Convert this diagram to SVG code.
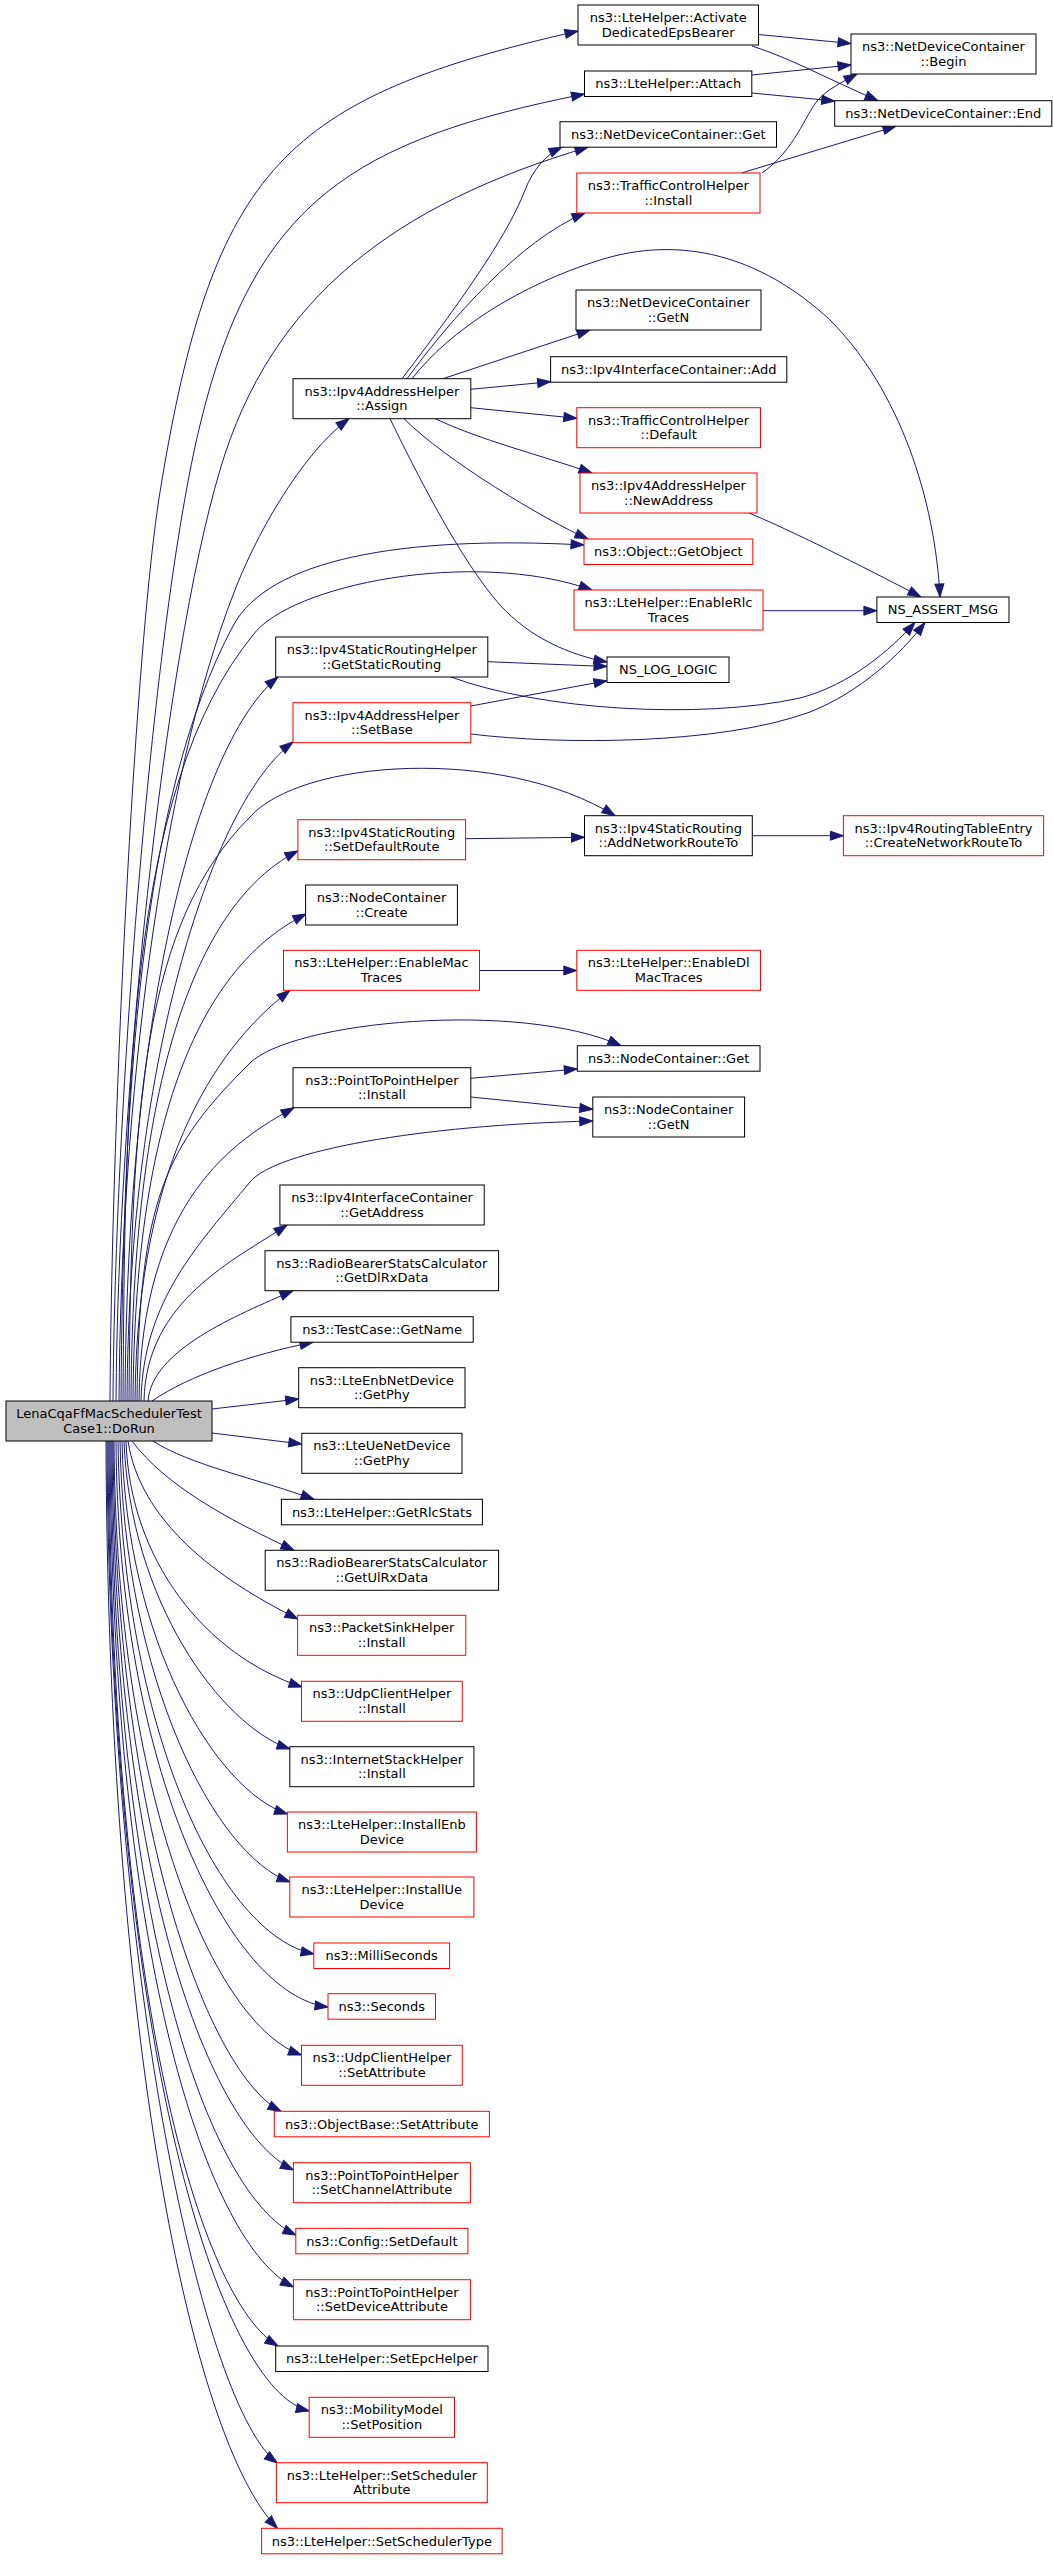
<svg xmlns="http://www.w3.org/2000/svg" width="1053" height="2560" viewBox="0 0 1053 2560">
<style>
.n rect{fill:#ffffff;stroke:#000000;stroke-width:1}
.r rect{fill:#ffffff;stroke:#ff0000;stroke-width:1}
.m rect{fill:#bfbfbf;stroke:#000000;stroke-width:1}
text{font-family:"DejaVu Sans","Liberation Sans",sans-serif;font-size:13px;text-anchor:middle;fill:#000000}
#edges path{fill:none;stroke:#191970;stroke-width:1;marker-end:url(#arr)}
</style>
<defs>
<marker id="arr" markerUnits="userSpaceOnUse" markerWidth="14" markerHeight="10" refX="13" refY="4.5" orient="auto" overflow="visible">
<path d="M0,0 L13,4.5 L0,9 Z" fill="#191970" stroke="#191970" stroke-width="1"/>
</marker>
</defs>
<rect x="0" y="0" width="1053" height="2560" fill="#ffffff"/>
<g id="edges">
<path d="M110,1401 C112,1100 136,640 160,492 C213,166 285,97.6 578,31"/>
<path d="M113,1401 C115,1100 153,619 200,425 C254,201 354.5,140 584.5,94"/>
<path d="M116,1401 C118,1100 163,662 220,470 C271,297 396,204 588,147.2"/>
<path d="M119,1401 C121,1100 161,782 233,595 C254,539 300,455 349,418.7"/>
<path d="M121,1401 C123,1100 139,802 233,626 C268,560 400,535 584,545"/>
<path d="M123,1401 C125,1100 127,789 253,635 C290,585 472,548 592,590"/>
<path d="M125,1401 C127,1000 200,740 278,677"/>
<path d="M127,1401 C129,1050 215,800 293,742"/>
<path d="M129,1401 C131,1100 144,923 250,817 C300,760 500,745 615,815.7"/>
<path d="M131,1401 C133,1000 230,885 298,851"/>
<path d="M133,1401 C135,1050 235,950 306,914"/>
<path d="M135,1401 C137,1150 225,1040 290,990.3"/>
<path d="M137,1401 C139,1200 165,1147 250,1063 C292.6,1021 520,1000 621,1045.7"/>
<path d="M139,1401 C141,1200 235,1140 294,1107.7"/>
<path d="M141,1401 C143,1300 199,1244 250,1182 C275,1151 420,1125 592.8,1121"/>
<path d="M144,1401 C146,1300 235,1260 287,1225"/>
<path d="M148,1401 C152,1350 235,1316 293,1290.7"/>
<path d="M152,1401 C190,1375 250,1355 313,1342.2"/>
<path d="M212,1409 L298.7,1399"/>
<path d="M212,1433 L301.8,1444"/>
<path d="M153,1441 C190,1465 255,1478 314,1499.3"/>
<path d="M132,1441 C165,1485 225,1518 294,1550.3"/>
<path d="M128,1441 C140,1520 215,1578 298,1619"/>
<path d="M126,1441 C130,1560 205,1655 302,1687"/>
<path d="M124,1441 C130,1600 220,1725 290,1749"/>
<path d="M122,1441 C126,1640 215,1790 287.5,1814"/>
<path d="M120,1441 C124,1680 215,1855 290,1882"/>
<path d="M118,1441 C122,1730 220,1935 314,1954"/>
<path d="M116,1441 C118,1770 230,1995 328,2007"/>
<path d="M114,1441 C116,1800 215,2025 301.5,2055"/>
<path d="M113,1441 C115,1830 210,2075 281,2111.3"/>
<path d="M112,1441 C114,1880 210,2130 293.5,2170"/>
<path d="M111,1441 C113,1930 210,2195 296,2235"/>
<path d="M110,1441 C112,1970 210,2245 293.5,2287"/>
<path d="M109,1441 C111,2000 200,2300 278,2346"/>
<path d="M108,1441 C110,2050 220,2390 309.2,2411"/>
<path d="M107,1441 C109,1990 205,2410 277.5,2463"/>
<path d="M106,1441 C108,2030 190,2440 277.5,2528.3"/>
<path d="M758.5,34.5 L851,43.5"/>
<path d="M752,46 C790,58 830,80 878,100.7"/>
<path d="M751.8,75 L851,65"/>
<path d="M751.8,93 L834.7,101"/>
<path d="M762,173 C795,150 805,115 818,100 C828,89 842,82 857,74"/>
<path d="M741.5,173 L896,126.2"/>
<path d="M402,378.7 C470,290 510,230 525,190 C533,170 545,155 562,147.2"/>
<path d="M407,378.7 C450,320 520,240 585,213"/>
<path d="M412,378.7 C450,330 520,285 600,260 C680,235 760,255 830,320 C900,390 935,500 940,597"/>
<path d="M443,378.7 L590,330"/>
<path d="M470.8,389.3 L550.6,381.7"/>
<path d="M470.8,407.7 L576.8,418.3"/>
<path d="M435,418.7 C480,440 540,455 592,473"/>
<path d="M404,418.7 C445,460 545,520 588,539"/>
<path d="M390,418.7 C415,470 460,560 500,605 C530,638 570,655 607,662"/>
<path d="M487.8,661.7 L607,666.5"/>
<path d="M451,677 C540,710 700,720 800,698 C850,685 890,650 915,622.5"/>
<path d="M470.8,706 L607,680.7"/>
<path d="M470.8,734 C560,745 720,745 810,712 C860,692 900,655 925,622.5"/>
<path d="M749,513 C790,530 860,565 921,597"/>
<path d="M763,610.7 L876.9,610.7"/>
<path d="M465.6,838.7 L584.5,837.3"/>
<path d="M752.3,835.7 L843.4,835.7"/>
<path d="M479.5,970.5 L576.8,970.5"/>
<path d="M470.8,1078.3 L577.3,1069"/>
<path d="M470.8,1097 L592.8,1109.3"/>
</g>
<g id="node_main" class="m"><rect x="6" y="1401" width="206" height="40"/><text x="109" y="1418">LenaCqaFfMacSchedulerTest</text><text x="109" y="1432.5">Case1::DoRun</text></g>
<g id="node_activate" class="n"><rect x="578" y="5" width="180.5" height="40"/><text x="668.25" y="22">ns3::LteHelper::Activate</text><text x="668.25" y="36.5">DedicatedEpsBearer</text></g>
<g id="node_begin" class="n"><rect x="851" y="34" width="185" height="40"/><text x="943.5" y="51">ns3::NetDeviceContainer</text><text x="943.5" y="65.5">::Begin</text></g>
<g id="node_attach" class="n"><rect x="584.5" y="71" width="167.3" height="25.5"/><text x="668.2" y="88.25">ns3::LteHelper::Attach</text></g>
<g id="node_end" class="n"><rect x="834.7" y="100.7" width="217.1" height="25.5"/><text x="943.25" y="117.95">ns3::NetDeviceContainer::End</text></g>
<g id="node_ndcget" class="n"><rect x="560" y="121.7" width="216.5" height="25.5"/><text x="668.25" y="138.95">ns3::NetDeviceContainer::Get</text></g>
<g id="node_tcinstall" class="r"><rect x="576.8" y="173" width="183.2" height="40"/><text x="668.4" y="190">ns3::TrafficControlHelper</text><text x="668.4" y="204.5">::Install</text></g>
<g id="node_ndcgetn" class="n"><rect x="576" y="290" width="185" height="40"/><text x="668.5" y="307">ns3::NetDeviceContainer</text><text x="668.5" y="321.5">::GetN</text></g>
<g id="node_add" class="n"><rect x="550.6" y="356.7" width="236.2" height="25.5"/><text x="668.7" y="373.95">ns3::Ipv4InterfaceContainer::Add</text></g>
<g id="node_assign" class="n"><rect x="293" y="378.7" width="177.8" height="40"/><text x="381.9" y="395.7">ns3::Ipv4AddressHelper</text><text x="381.9" y="410.2">::Assign</text></g>
<g id="node_default" class="r"><rect x="576.8" y="407.7" width="183.7" height="40"/><text x="668.65" y="424.7">ns3::TrafficControlHelper</text><text x="668.65" y="439.2">::Default</text></g>
<g id="node_newaddress" class="r"><rect x="580" y="473" width="177" height="40"/><text x="668.5" y="490">ns3::Ipv4AddressHelper</text><text x="668.5" y="504.5">::NewAddress</text></g>
<g id="node_getobject" class="r"><rect x="584" y="539" width="168.8" height="25.5"/><text x="668.4" y="556.25">ns3::Object::GetObject</text></g>
<g id="node_enablerlc" class="r"><rect x="574" y="590" width="189" height="40"/><text x="668.5" y="607">ns3::LteHelper::EnableRlc</text><text x="668.5" y="621.5">Traces</text></g>
<g id="node_assert" class="n"><rect x="876.9" y="597" width="132.1" height="25.5"/><text x="942.95" y="614.25">NS_ASSERT_MSG</text></g>
<g id="node_getstaticrouting" class="n"><rect x="275.7" y="637" width="212.1" height="40"/><text x="381.75" y="654">ns3::Ipv4StaticRoutingHelper</text><text x="381.75" y="668.5">::GetStaticRouting</text></g>
<g id="node_nslog" class="n"><rect x="607" y="657" width="122" height="25.5"/><text x="668" y="674.25">NS_LOG_LOGIC</text></g>
<g id="node_setbase" class="r"><rect x="293" y="702.7" width="177.8" height="40"/><text x="381.9" y="719.7">ns3::Ipv4AddressHelper</text><text x="381.9" y="734.2">::SetBase</text></g>
<g id="node_setdefaultroute" class="r"><rect x="297.9" y="819.7" width="167.7" height="40"/><text x="381.75" y="836.7">ns3::Ipv4StaticRouting</text><text x="381.75" y="851.2">::SetDefaultRoute</text></g>
<g id="node_addnetworkrouteto" class="n"><rect x="584.5" y="815.7" width="167.8" height="40"/><text x="668.4" y="832.7">ns3::Ipv4StaticRouting</text><text x="668.4" y="847.2">::AddNetworkRouteTo</text></g>
<g id="node_createnetworkrouteto" class="r"><rect x="843.4" y="815.7" width="200.2" height="40"/><text x="943.5" y="832.7">ns3::Ipv4RoutingTableEntry</text><text x="943.5" y="847.2">::CreateNetworkRouteTo</text></g>
<g id="node_create" class="n"><rect x="305.6" y="885" width="151.8" height="40"/><text x="381.5" y="902">ns3::NodeContainer</text><text x="381.5" y="916.5">::Create</text></g>
<g id="node_enablemac" class="r"><rect x="283.5" y="950.3" width="196" height="40"/><text x="381.5" y="967.3">ns3::LteHelper::EnableMac</text><text x="381.5" y="981.8">Traces</text></g>
<g id="node_enabledl" class="r"><rect x="576.8" y="950.3" width="183.7" height="40"/><text x="668.65" y="967.3">ns3::LteHelper::EnableDl</text><text x="668.65" y="981.8">MacTraces</text></g>
<g id="node_ncget" class="n"><rect x="577.3" y="1045.7" width="182.7" height="25.5"/><text x="668.65" y="1062.95">ns3::NodeContainer::Get</text></g>
<g id="node_p2pinstall" class="n"><rect x="293" y="1067.7" width="177.8" height="40"/><text x="381.9" y="1084.7">ns3::PointToPointHelper</text><text x="381.9" y="1099.2">::Install</text></g>
<g id="node_ncgetn" class="n"><rect x="592.8" y="1097" width="151.8" height="40"/><text x="668.7" y="1114">ns3::NodeContainer</text><text x="668.7" y="1128.5">::GetN</text></g>
<g id="node_getaddress" class="n"><rect x="279.9" y="1185" width="204.3" height="40"/><text x="382.05" y="1202">ns3::Ipv4InterfaceContainer</text><text x="382.05" y="1216.5">::GetAddress</text></g>
<g id="node_getdlrxdata" class="n"><rect x="265" y="1250.7" width="233.6" height="40"/><text x="381.8" y="1267.7">ns3::RadioBearerStatsCalculator</text><text x="381.8" y="1282.2">::GetDlRxData</text></g>
<g id="node_getname" class="n"><rect x="290.9" y="1316.7" width="182.3" height="25.5"/><text x="382.05" y="1333.95">ns3::TestCase::GetName</text></g>
<g id="node_enbgetphy" class="n"><rect x="298.7" y="1367.7" width="166.3" height="40"/><text x="381.85" y="1384.7">ns3::LteEnbNetDevice</text><text x="381.85" y="1399.2">::GetPhy</text></g>
<g id="node_uegetphy" class="n"><rect x="301.8" y="1433.3" width="160.2" height="40"/><text x="381.9" y="1450.3">ns3::LteUeNetDevice</text><text x="381.9" y="1464.8">::GetPhy</text></g>
<g id="node_getrlcstats" class="n"><rect x="281.4" y="1499.3" width="201" height="25.5"/><text x="381.9" y="1516.55">ns3::LteHelper::GetRlcStats</text></g>
<g id="node_getulrxdata" class="n"><rect x="265.2" y="1550.3" width="233.4" height="40"/><text x="381.9" y="1567.3">ns3::RadioBearerStatsCalculator</text><text x="381.9" y="1581.8">::GetUlRxData</text></g>
<g id="node_packetsink" class="r"><rect x="297.6" y="1615.3" width="168.2" height="40"/><text x="381.7" y="1632.3">ns3::PacketSinkHelper</text><text x="381.7" y="1646.8">::Install</text></g>
<g id="node_udpinstall" class="r"><rect x="301.5" y="1681.3" width="160.8" height="40"/><text x="381.9" y="1698.3">ns3::UdpClientHelper</text><text x="381.9" y="1712.8">::Install</text></g>
<g id="node_internetstack" class="n"><rect x="289.8" y="1746.7" width="184.1" height="40"/><text x="381.85" y="1763.7">ns3::InternetStackHelper</text><text x="381.85" y="1778.2">::Install</text></g>
<g id="node_installenb" class="r"><rect x="287.4" y="1812" width="189" height="40"/><text x="381.9" y="1829">ns3::LteHelper::InstallEnb</text><text x="381.9" y="1843.5">Device</text></g>
<g id="node_installue" class="r"><rect x="289.8" y="1877" width="184.1" height="40"/><text x="381.85" y="1894">ns3::LteHelper::InstallUe</text><text x="381.85" y="1908.5">Device</text></g>
<g id="node_milliseconds" class="r"><rect x="313.8" y="1943" width="135.8" height="25.5"/><text x="381.7" y="1960.25">ns3::MilliSeconds</text></g>
<g id="node_seconds" class="r"><rect x="328" y="1993.7" width="107.5" height="25.5"/><text x="381.75" y="2010.95">ns3::Seconds</text></g>
<g id="node_udpsetattr" class="r"><rect x="301.5" y="2045.3" width="160.8" height="40"/><text x="381.9" y="2062.3">ns3::UdpClientHelper</text><text x="381.9" y="2076.8">::SetAttribute</text></g>
<g id="node_objectbase" class="r"><rect x="274.3" y="2111.3" width="215.1" height="25.5"/><text x="381.85" y="2128.55">ns3::ObjectBase::SetAttribute</text></g>
<g id="node_p2pchannel" class="r"><rect x="293.4" y="2162.7" width="177" height="40"/><text x="381.9" y="2179.7">ns3::PointToPointHelper</text><text x="381.9" y="2194.2">::SetChannelAttribute</text></g>
<g id="node_configsetdefault" class="r"><rect x="295.8" y="2228.3" width="172.1" height="25.5"/><text x="381.85" y="2245.55">ns3::Config::SetDefault</text></g>
<g id="node_p2pdevice" class="r"><rect x="293.4" y="2279.7" width="177" height="40"/><text x="381.9" y="2296.7">ns3::PointToPointHelper</text><text x="381.9" y="2311.2">::SetDeviceAttribute</text></g>
<g id="node_setepc" class="n"><rect x="275.7" y="2346" width="212.3" height="25.5"/><text x="381.85" y="2363.25">ns3::LteHelper::SetEpcHelper</text></g>
<g id="node_setposition" class="r"><rect x="309.2" y="2397.3" width="145.3" height="40"/><text x="381.85" y="2414.3">ns3::MobilityModel</text><text x="381.85" y="2428.8">::SetPosition</text></g>
<g id="node_setschedattr" class="r"><rect x="276.4" y="2462.7" width="210.9" height="40"/><text x="381.85" y="2479.7">ns3::LteHelper::SetScheduler</text><text x="381.85" y="2494.2">Attribute</text></g>
<g id="node_setschedtype" class="r"><rect x="261.6" y="2528.3" width="240.5" height="25.5"/><text x="381.85" y="2545.55">ns3::LteHelper::SetSchedulerType</text></g>
</svg>
